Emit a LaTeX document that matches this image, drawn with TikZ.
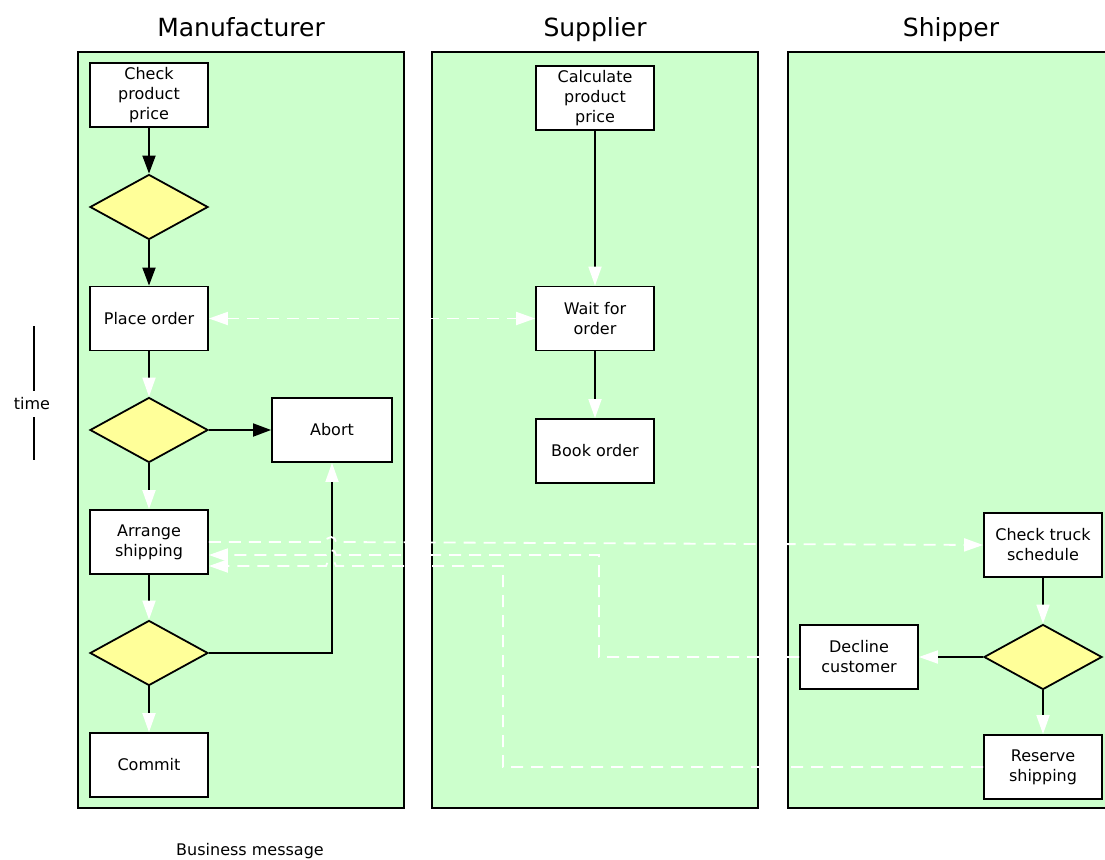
\documentclass[tikz,border=0pt]{standalone}
\usepackage{fontspec}
\setmainfont{DejaVu Sans}
\usetikzlibrary{arrows.meta,positioning,shapes.geometric}

\definecolor{laneGreen}{HTML}{CCFFCC}
\definecolor{choiceYellow}{HTML}{FFFF99}

\begin{document}
\begin{tikzpicture}[
  x=1pt, y=1pt,
  font=\fontsize{16}{20}\selectfont,
  lane/.style={draw=black, line width=1.8pt, fill=laneGreen,
    minimum width=326pt, minimum height=756pt, inner sep=0pt},
  laneTitle/.style={anchor=base, font=\fontsize{25}{28}\selectfont},
  task/.style={draw=black, line width=1.8pt, fill=white,
    minimum width=118pt, minimum height=64pt, align=center, inner sep=2pt},
  choice/.style={diamond, draw=black, line width=1.8pt, fill=choiceYellow,
    minimum width=118pt, minimum height=65pt, inner sep=0pt},
  flow/.style={-{Triangle[length=18pt,width=13pt]}, line width=1.8pt, draw=black},
  flowWhite/.style={-{Triangle[length=19pt,width=13pt,color=white]}, line width=1.8pt, draw=black},
  message/.style={-{Triangle[length=19pt,width=13pt]}, line width=1.8pt, draw=white,
    dash pattern=on 12pt off 8pt}
]
  \useasboundingbox (0,0) rectangle (1105,-859);

  % swim lanes
  \node[lane] (manuLane) at (241,-430) {};
  \node[lane] (suppLane) at (595,-430) {};
  \node[lane] (shipLane) at (951,-430) {};
  \node[laneTitle] (manuTitle) at ([yshift=15pt]manuLane.north) {Manufacturer};
  \node[laneTitle] (suppTitle) at ([yshift=15pt]suppLane.north) {Supplier};
  \node[laneTitle] (shipTitle) at ([yshift=15pt]shipLane.north) {Shipper};

  % manufacturer
  \node[task] (checkPrice) at (149,-95) {Check\\product\\price};
  \node[choice] (priceOk) at (149,-207) {};
  \node[task] (placeOrder) at (149,-318.5) {Place order};
  \node[choice] (orderOk) at (149,-430) {};
  \node[task, minimum width=120pt] (abort) at (332,-430) {Abort};
  \node[task] (arrange) at (149,-542) {Arrange\\shipping};
  \node[choice] (shipOk) at (149,-653) {};
  \node[task] (commit) at (149,-765) {Commit};

  % supplier
  \node[task] (calcPrice) at (595,-98) {Calculate\\product\\price};
  \node[task] (waitOrder) at (595,-318.5) {Wait for\\order};
  \node[task] (bookOrder) at (595,-451) {Book order};

  % shipper
  \node[task] (truckSched) at (1043,-545) {Check truck\\schedule};
  \node[choice] (truckOk) at (1043,-657) {};
  \node[task] (decline) at (859,-657) {Decline\\customer};
  \node[task] (reserve) at (1043,-767) {Reserve\\shipping};

  % time and legend
  \coordinate (timeTop) at (34,-326);
  \coordinate (timeBottom) at (34,-460);
  \node[inner sep=7pt] (timeLabel) at (32,-404) {time};
  \draw[line width=1.8pt] (timeTop) -- (timeTop |- timeLabel.north);
  \draw[line width=1.8pt] (timeBottom |- timeLabel.south) -- (timeBottom);
  \node (legend) at (250,-851) {Business message};

  % process flow
  \draw[flow] (checkPrice) -- (priceOk);
  \draw[flow] (priceOk) -- (placeOrder);
  \draw[flowWhite] (placeOrder) -- (orderOk);
  \draw[flow] (orderOk) -- (abort);
  \draw[flowWhite] (orderOk) -- (arrange);
  \draw[flowWhite] (arrange) -- (shipOk);
  \draw[flowWhite] (shipOk) -- (commit);
  \draw[flowWhite] (shipOk.east) -| (abort.south);
  \draw[flowWhite] (calcPrice) -- (waitOrder);
  \draw[flowWhite] (waitOrder) -- (bookOrder);
  \draw[flowWhite] (truckSched) -- (truckOk);
  \draw[flowWhite] (truckOk) -- (decline);
  \draw[flowWhite] (truckOk) -- (reserve);

  % business messages
  \coordinate (declineTurn) at (599,-555);
  \coordinate (reserveTurn) at (503,-566);
  \draw[message, {Triangle[length=19pt,width=13pt]}-{Triangle[length=19pt,width=13pt]}]
    (placeOrder) -- (waitOrder);
  \draw[message] (arrange.east) -- (326,-542)
    arc[start angle=180, end angle=0, radius=5] -- (truckSched.west);
  \draw[message] (decline.west) -| (declineTurn) -- (336,-555)
    arc[start angle=0, end angle=180, radius=5] -- (arrange.east |- declineTurn);
  \draw[message] (reserve.west) -| (reserveTurn) -- (336,-566)
    arc[start angle=0, end angle=180, radius=5] -- (arrange.east |- reserveTurn);
\end{tikzpicture}
\end{document}
